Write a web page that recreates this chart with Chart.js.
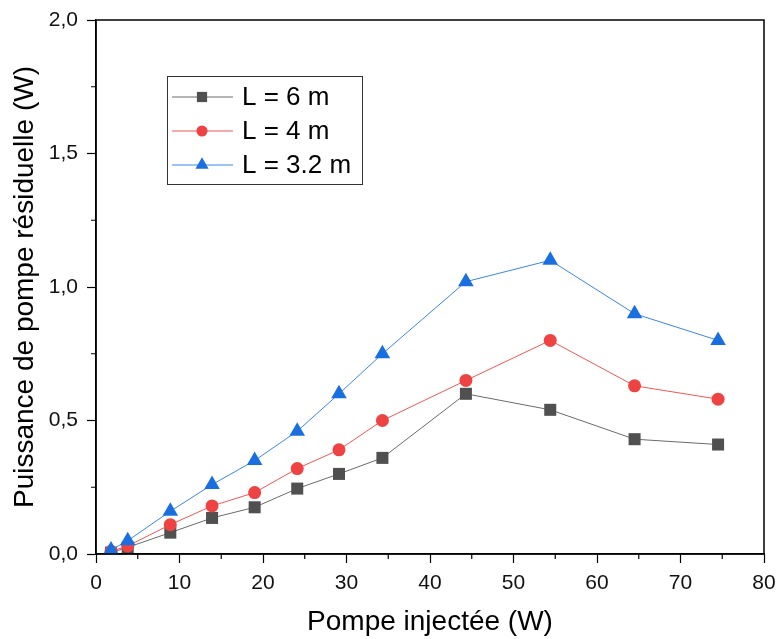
<!DOCTYPE html>
<html>
<head>
<meta charset="utf-8">
<script src="https://cdn.jsdelivr.net/npm/chart.js@4/dist/chart.umd.min.js"></script>
<style>
  body { margin: 0; background: #fff; }
  #wrap { width: 778px; height: 639px; }
</style>
</head>
<body>
<div id="wrap"><canvas id="myChart" width="778" height="639"></canvas></div>
<script>
const pompeInjectee = [1.8, 3.8, 8.9, 13.9, 19, 24.1, 29.1, 34.3, 44.3, 54.4, 64.5, 74.5];
const puissanceL6 = [0.005, 0.025, 0.08, 0.135, 0.175, 0.245, 0.30, 0.36, 0.60, 0.54, 0.43, 0.41];
const puissanceL4 = [0.01, 0.03, 0.11, 0.18, 0.23, 0.32, 0.39, 0.50, 0.65, 0.80, 0.63, 0.58];
const puissanceL32 = [0.015, 0.05, 0.16, 0.26, 0.35, 0.46, 0.60, 0.75, 1.02, 1.10, 0.90, 0.80];
const seriesLabels = ['L = 6 m', 'L = 4 m', 'L = 3.2 m'];
const xTicks = [0, 10, 20, 30, 40, 50, 60, 70, 80];
const yTicks = [0, 0.5, 1.0, 1.5, 2.0];

const font = "'Liberation Sans', Arial, sans-serif";
const toPoints = (ys) => ys.map((y, i) => ({ x: pompeInjectee[i], y: y }));

const makeSet = (label, ys, color, lineColor, style, radius, order) => ({
    label: label,
    data: toPoints(ys),
    showLine: true,
    borderColor: lineColor,
    backgroundColor: color,
    borderWidth: 1,
    pointStyle: style,
    pointRadius: radius,
    pointBorderWidth: 0,
    pointBackgroundColor: color,
    order: order
});

const datasets = [
    makeSet(seriesLabels[0], puissanceL6, '#505050', '#6a6a6a', 'rect', 8.5, 2),
    makeSet(seriesLabels[1], puissanceL4, '#ef4242', '#f25656', 'circle', 6.5, 1),
    makeSet(seriesLabels[2], puissanceL32, '#1a6fe0', '#3a85ea', 'triangle', 9, 0)
];

// frame, minor ticks and legend box
const extras = {
    id: 'extras',
    afterDraw(chart) {
        const ctx = chart.ctx;
        const a = chart.chartArea;
        const xs = chart.scales.x;
        const ys = chart.scales.y;
        ctx.save();
        ctx.strokeStyle = '#000';
        ctx.lineWidth = 1.5;
        ctx.strokeRect(a.left, a.top, a.right - a.left, a.bottom - a.top);

        ctx.lineWidth = 1.2;
        ctx.beginPath();
        for (let v = 5; v < 80; v += 10) {
            const px = xs.getPixelForValue(v);
            ctx.moveTo(px, a.bottom);
            ctx.lineTo(px, a.bottom + 5);
        }
        for (let v = 0.25; v < 2; v += 0.5) {
            const py = ys.getPixelForValue(v);
            ctx.moveTo(a.left, py);
            ctx.lineTo(a.left - 5, py);
        }
        ctx.stroke();

        // legend
        const bx = 167, by = 76, bw = 195, bh = 108;
        ctx.lineWidth = 1;
        ctx.strokeStyle = '#333';
        ctx.strokeRect(bx + 0.5, by + 0.5, bw, bh);
        chart.data.datasets.forEach((ds, i) => {
            const cy = 97 + i * 34;
            ctx.strokeStyle = ds.borderColor;
            ctx.lineWidth = 1;
            ctx.beginPath();
            ctx.moveTo(172, cy);
            ctx.lineTo(233, cy);
            ctx.stroke();
            ctx.fillStyle = ds.pointBackgroundColor;
            Chart.helpers.drawPoint(ctx, {
                pointStyle: ds.pointStyle,
                radius: ds.pointRadius * 0.85,
                borderWidth: 0,
                rotation: 0
            }, 202, cy);
            ctx.fillStyle = '#000';
            ctx.font = '26px ' + font;
            ctx.textBaseline = 'middle';
            ctx.textAlign = 'left';
            ctx.fillText(ds.label, 242, cy + 1);
        });
        ctx.restore();
    }
};

new Chart(document.getElementById('myChart'), {
    type: 'scatter',
    data: { datasets: datasets },
    options: {
        responsive: false,
        animation: false,
        layout: { padding: { left: 0, right: 14, top: 20, bottom: 0 } },
        plugins: { legend: { display: false }, tooltip: { enabled: false } },
        scales: {
            x: {
                type: 'linear',
                min: xTicks[0],
                max: xTicks[xTicks.length - 1],
                afterFit: (s) => { s.height = 85; s.paddingLeft = 0; s.paddingRight = 0; },
                afterBuildTicks: (s) => { s.ticks = xTicks.map((v) => ({ value: v })); },
                border: { display: true, color: '#000', width: 1.5 },
                grid: { drawOnChartArea: false, tickLength: 9, tickWidth: 1.2, tickColor: '#000' },
                ticks: {
                    color: '#111',
                    font: { family: font, size: 21 },
                    padding: 8,
                    callback: (v) => v
                },
                title: {
                    display: true,
                    text: 'Pompe injectée (W)',
                    color: '#000',
                    font: { family: font, size: 28 },
                    padding: { top: 4, bottom: 0 }
                }
            },
            y: {
                type: 'linear',
                min: yTicks[0],
                max: yTicks[yTicks.length - 1],
                afterFit: (s) => { s.width = 96; s.paddingTop = 0; s.paddingBottom = 0; },
                afterBuildTicks: (s) => { s.ticks = yTicks.map((v) => ({ value: v })); },
                border: { display: true, color: '#000', width: 1.5 },
                grid: { drawOnChartArea: false, tickLength: 9, tickWidth: 1.2, tickColor: '#000' },
                ticks: {
                    color: '#111',
                    font: { family: font, size: 21 },
                    padding: 9,
                    callback: (v) => v.toFixed(1).replace('.', ',')
                },
                title: {
                    display: true,
                    text: 'Puissance de pompe résiduelle (W)',
                    color: '#000',
                    font: { family: font, size: 28 },
                    padding: { top: 8, bottom: 0 }
                }
            }
        }
    },
    plugins: [extras]
});
</script>
</body>
</html>
